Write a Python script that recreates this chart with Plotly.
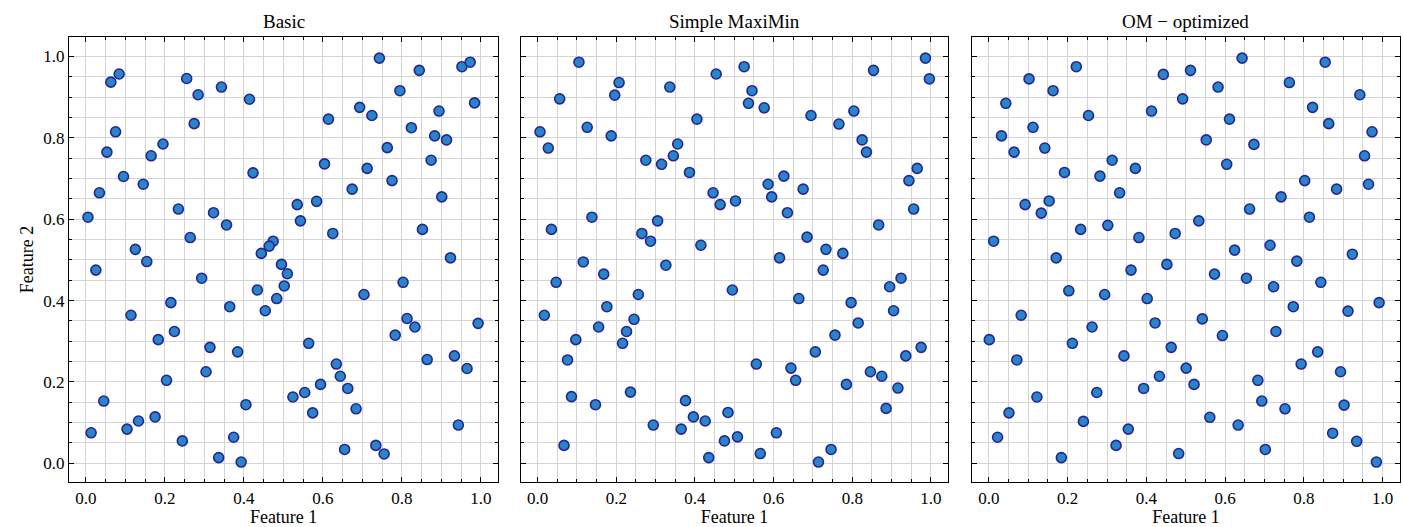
import plotly.graph_objects as go

# ---------------- data ----------------
basic_x = [0.084, 0.063, 0.255, 0.284, 0.343, 0.414, 0.274, 0.075, 0.195, 0.053,
           0.165, 0.423, 0.095, 0.145, 0.034, 0.234, 0.323, 0.005, 0.356, 0.264,
           0.474, 0.464, 0.444, 0.125, 0.154, 0.495,
           0.743, 0.844, 0.952, 0.973, 0.795, 0.984, 0.693, 0.724, 0.894, 0.614,
           0.824, 0.883, 0.913, 0.763, 0.604, 0.712, 0.874, 0.775, 0.674, 0.901,
           0.535, 0.584, 0.543, 0.625, 0.852, 0.923,
           0.025, 0.293, 0.510, 0.502, 0.434, 0.483, 0.454, 0.215, 0.364, 0.114,
           0.224, 0.183, 0.314, 0.384, 0.304, 0.204, 0.045, 0.405, 0.175, 0.133,
           0.104, 0.013, 0.244, 0.374, 0.336, 0.393,
           0.803, 0.704, 0.813, 0.833, 0.783, 0.993, 0.564, 0.864, 0.933, 0.965,
           0.634, 0.644, 0.663, 0.594, 0.554, 0.524, 0.574, 0.684, 0.943, 0.655,
           0.734, 0.755]
basic_y = [0.957, 0.937, 0.946, 0.906, 0.925, 0.895, 0.835, 0.815, 0.785, 0.765,
           0.756, 0.714, 0.705, 0.686, 0.665, 0.625, 0.616, 0.605, 0.586, 0.555,
           0.546, 0.534, 0.516, 0.526, 0.496, 0.489,
           0.996, 0.966, 0.975, 0.986, 0.916, 0.886, 0.875, 0.855, 0.866, 0.846,
           0.825, 0.805, 0.795, 0.776, 0.736, 0.725, 0.745, 0.695, 0.674, 0.655,
           0.636, 0.644, 0.596, 0.565, 0.575, 0.505,
           0.475, 0.455, 0.466, 0.436, 0.426, 0.405, 0.375, 0.395, 0.385, 0.364,
           0.324, 0.304, 0.285, 0.274, 0.225, 0.204, 0.153, 0.144, 0.114, 0.104,
           0.084, 0.075, 0.055, 0.064, 0.014, 0.003,
           0.445, 0.415, 0.356, 0.335, 0.315, 0.344, 0.295, 0.255, 0.264, 0.233,
           0.244, 0.214, 0.184, 0.194, 0.174, 0.163, 0.124, 0.134, 0.094, 0.034,
           0.044, 0.023]

maximin_x = [0.105, 0.207, 0.196, 0.336, 0.454, 0.056, 0.405, 0.126, 0.187, 0.006,
             0.027, 0.356, 0.345, 0.275, 0.315, 0.386, 0.446, 0.464, 0.503, 0.138,
             0.305, 0.035, 0.265, 0.287, 0.415, 0.116, 0.326,
             0.525, 0.986, 0.996, 0.854, 0.545, 0.536, 0.576, 0.695, 0.766, 0.804,
             0.825, 0.836, 0.626, 0.586, 0.595, 0.675, 0.635, 0.965, 0.944, 0.956,
             0.867, 0.685, 0.733, 0.776, 0.615,
             0.047, 0.168, 0.495, 0.256, 0.017, 0.176, 0.245, 0.155, 0.226, 0.097,
             0.216, 0.076, 0.236, 0.086, 0.147, 0.376, 0.396, 0.426, 0.294, 0.365,
             0.484, 0.475, 0.067, 0.435, 0.508,
             0.726, 0.664, 0.797, 0.895, 0.924, 0.905, 0.815, 0.756, 0.706, 0.975,
             0.936, 0.556, 0.644, 0.656, 0.846, 0.875, 0.785, 0.916, 0.886, 0.607,
             0.566, 0.746, 0.714]
maximin_y = [0.986, 0.936, 0.905, 0.925, 0.957, 0.896, 0.846, 0.826, 0.805, 0.815,
             0.775, 0.785, 0.756, 0.745, 0.735, 0.715, 0.665, 0.636, 0.645, 0.605,
             0.596, 0.575, 0.565, 0.546, 0.536, 0.495, 0.487,
             0.975, 0.996, 0.945, 0.966, 0.916, 0.885, 0.874, 0.855, 0.834, 0.866,
             0.795, 0.765, 0.706, 0.686, 0.655, 0.674, 0.616, 0.725, 0.695, 0.625,
             0.586, 0.556, 0.526, 0.516, 0.505,
             0.445, 0.465, 0.426, 0.415, 0.364, 0.385, 0.354, 0.335, 0.324, 0.304,
             0.295, 0.254, 0.175, 0.164, 0.144, 0.154, 0.114, 0.104, 0.094, 0.084,
             0.125, 0.055, 0.044, 0.014, 0.065,
             0.475, 0.405, 0.395, 0.434, 0.455, 0.375, 0.345, 0.315, 0.274, 0.285,
             0.264, 0.244, 0.234, 0.204, 0.225, 0.214, 0.194, 0.185, 0.135, 0.075,
             0.024, 0.034, 0.003]

om_x = [0.222, 0.102, 0.163, 0.443, 0.043, 0.253, 0.492, 0.413, 0.112, 0.032,
        0.064, 0.142, 0.313, 0.372, 0.192, 0.282, 0.332, 0.092, 0.153, 0.133,
        0.233, 0.302, 0.381, 0.473, 0.012, 0.171, 0.452,
        0.643, 0.854, 0.512, 0.582, 0.763, 0.942, 0.822, 0.611, 0.863, 0.973,
        0.552, 0.673, 0.604, 0.954, 0.802, 0.883, 0.964, 0.742, 0.662, 0.814,
        0.533, 0.624, 0.714, 0.923, 0.782,
        0.361, 0.203, 0.294, 0.402, 0.082, 0.262, 0.422, 0.001, 0.212, 0.463,
        0.343, 0.071, 0.501, 0.433, 0.393, 0.274, 0.122, 0.051, 0.240, 0.354,
        0.022, 0.323, 0.184, 0.482,
        0.573, 0.654, 0.723, 0.843, 0.991, 0.773, 0.912, 0.542, 0.593, 0.729,
        0.835, 0.793, 0.893, 0.521, 0.683, 0.693, 0.752, 0.902, 0.561, 0.633,
        0.873, 0.934, 0.702, 0.984]
om_y = [0.975, 0.945, 0.916, 0.956, 0.885, 0.855, 0.896, 0.866, 0.826, 0.805,
        0.765, 0.775, 0.745, 0.725, 0.715, 0.706, 0.665, 0.636, 0.645, 0.615,
        0.575, 0.585, 0.555, 0.565, 0.546, 0.505, 0.489,
        0.996, 0.986, 0.966, 0.925, 0.936, 0.906, 0.875, 0.846, 0.835, 0.815,
        0.795, 0.784, 0.735, 0.756, 0.695, 0.674, 0.686, 0.655, 0.625, 0.605,
        0.596, 0.524, 0.536, 0.514, 0.497,
        0.475, 0.424, 0.415, 0.405, 0.364, 0.335, 0.345, 0.304, 0.295, 0.285,
        0.264, 0.254, 0.234, 0.214, 0.184, 0.174, 0.163, 0.124, 0.103, 0.084,
        0.064, 0.044, 0.014, 0.024,
        0.465, 0.455, 0.434, 0.445, 0.395, 0.385, 0.374, 0.355, 0.314, 0.324,
        0.274, 0.244, 0.225, 0.194, 0.204, 0.153, 0.134, 0.143, 0.113, 0.094,
        0.074, 0.054, 0.034, 0.003]

titles = ["Basic", "Simple MaxiMin", "OM \u2212 optimized"]
tick_vals = [0.0, 0.2, 0.4, 0.6, 0.8, 1.0]
tick_text = ["0.0", "0.2", "0.4", "0.6", "0.8", "1.0"]

# ---------------- figure ----------------
FONT = "Liberation Serif"
fill_color = "#2b84c3"
edge_color = "#22269a"

domains = [[0.0, 0.3225], [0.3394, 0.6606], [0.6784, 1.0]]
datasets = [(basic_x, basic_y), (maximin_x, maximin_y), (om_x, om_y)]

fig = go.Figure()
for i, (xs, ys) in enumerate(datasets):
    sfx = "" if i == 0 else str(i + 1)
    fig.add_trace(go.Scatter(
        x=xs, y=ys, mode="markers",
        xaxis="x" + sfx, yaxis="y" + sfx,
        marker=dict(size=10, color=fill_color,
                    line=dict(color=edge_color, width=1.6)),
        showlegend=False, hoverinfo="x+y"))

common = dict(
    showline=True, linecolor="black", linewidth=1.3, mirror="allticks",
    ticks="inside", ticklen=5, tickwidth=1.1, tickcolor="black",
    tickvals=tick_vals, ticktext=tick_text,
    showgrid=True, gridcolor="#d4d4d4", gridwidth=1,
    zeroline=False,
    minor=dict(dtick=0.05, tick0=0, ticks="inside", ticklen=3, tickwidth=0.9,
               tickcolor="black", showgrid=True, gridcolor="#d4d4d4", gridwidth=1),
    tickfont=dict(family=FONT, size=17, color="black"),
)

layout = dict(
    width=1403, height=527,
    margin=dict(l=69, r=3, t=37, b=45),
    plot_bgcolor="white", paper_bgcolor="white",
    font=dict(family=FONT, color="black"),
    annotations=[],
)

for i in range(3):
    sfx = "" if i == 0 else str(i + 1)
    xa = dict(common)
    xa.update(domain=domains[i], range=[-0.043, 1.044], anchor="y" + sfx,
              title=dict(text="Feature 1", font=dict(family=FONT, size=18), standoff=2))
    ya = dict(common)
    ya.update(domain=[0, 1], range=[-0.046, 1.048], anchor="x" + sfx,
              showticklabels=(i == 0))
    if i == 0:
        ya.update(title=dict(text="Feature 2", font=dict(family=FONT, size=18), standoff=4))
    layout["xaxis" + sfx] = xa
    layout["yaxis" + sfx] = ya
    layout["annotations"].append(dict(
        text=titles[i], xref="paper", yref="paper",
        x=(domains[i][0] + domains[i][1]) / 2, y=1.0, yshift=3,
        xanchor="center", yanchor="bottom", showarrow=False,
        font=dict(family=FONT, size=19, color="black")))

fig.update_layout(**layout)
fig.write_html("out.html")
